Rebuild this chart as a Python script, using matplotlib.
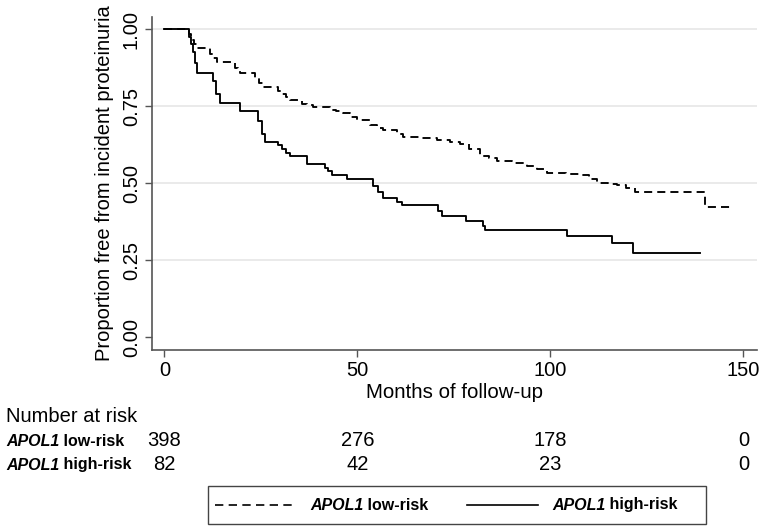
import matplotlib
matplotlib.use("Agg")
import matplotlib.pyplot as plt
from matplotlib.lines import Line2D
from matplotlib.patches import Rectangle
from matplotlib.transforms import blended_transform_factory

plt.rcParams['font.family'] = ['Liberation Sans', 'DejaVu Sans']

# ---- data ----
low_t = [0, 6.4, 7.0, 7.6, 8.5, 11.8, 12.7, 13.6, 18.3, 19.0, 19.6, 23.5, 24.6, 25.6,
         29.5, 30.5, 31.6, 32.6, 35.6, 37.0, 38.5, 42.9, 44.5, 46.3, 48.0, 50.0, 53.3,
         55.0, 56.6, 60.2, 61.8, 66.0, 70.6, 74.0, 76.6, 79.0, 81.8, 84.0, 86.1, 90.0,
         93.9, 96.5, 99.1, 104.0, 107.7, 110.0, 112.0, 115.0, 117.2, 119.5, 121.9,
         140.1, 146.5]
low_s = [1.0, 0.985, 0.965, 0.95, 0.937, 0.92, 0.905, 0.894, 0.875, 0.865, 0.856, 0.84,
         0.825, 0.813, 0.80, 0.79, 0.778, 0.769, 0.758, 0.752, 0.747, 0.738, 0.733, 0.728,
         0.716, 0.705, 0.69, 0.68, 0.672, 0.66, 0.65, 0.645, 0.64, 0.633, 0.626, 0.61,
         0.588, 0.58, 0.573, 0.565, 0.555, 0.545, 0.533, 0.53, 0.526, 0.512, 0.501, 0.497,
         0.494, 0.483, 0.472, 0.423, 0.423]

high_t = [0, 6.4, 7.0, 7.5, 8.0, 8.5, 12.6, 13.5, 14.4, 19.6, 24.3, 25.2, 26.1, 29.5,
          30.5, 31.5, 32.6, 37.0, 41.6, 42.5, 43.4, 47.3, 54.0, 55.3, 56.6, 60.2, 61.6,
          70.9, 71.9, 78.2, 82.6, 83.0, 104.3, 116.0, 121.4, 138.8]
high_s = [1.0, 0.975, 0.95, 0.925, 0.89, 0.857, 0.83, 0.79, 0.759, 0.734, 0.70, 0.66,
          0.634, 0.622, 0.61, 0.598, 0.588, 0.562, 0.55, 0.538, 0.526, 0.513, 0.49, 0.47,
          0.452, 0.439, 0.428, 0.41, 0.393, 0.378, 0.36, 0.347, 0.329, 0.305, 0.273, 0.273]

risk_times = [0, 50, 100, 150]
risk_low = [398, 276, 178, 0]
risk_high = [82, 42, 23, 0]

x_ticks = [0, 50, 100, 150]
y_ticks = [0.0, 0.25, 0.5, 0.75, 1.0]
y_ticklabels = ["0.00", "0.25", "0.50", "0.75", "1.00"]

group_names = ["low-risk", "high-risk"]
gene = "APOL1"

# ---- figure ----
W, H = 762, 529
fig = plt.figure(figsize=(W / 100, H / 100), dpi=100)
fig.patch.set_facecolor("white")

ax_left, ax_right, ax_bottom, ax_top = 152, 757, 350, 16.7
ax = fig.add_axes([ax_left / W, 1 - ax_bottom / H, (ax_right - ax_left) / W,
                   (ax_bottom - ax_top) / H])

ax.set_xlim(-3.2, 153.5)
ax.set_ylim(-0.042, 1.04)

for y in y_ticks[1:]:
    ax.axhline(y, color="#e8e8e8", lw=1.3, zorder=0)

ax.plot(low_t, low_s, drawstyle="steps-post", color="black", lw=1.35,
        linestyle=(0, (4.3, 2.7)), zorder=3)
ax.plot(high_t, high_s, drawstyle="steps-post", color="black", lw=1.35, zorder=3)

for s in ["top", "right"]:
    ax.spines[s].set_visible(False)
for s in ["left", "bottom"]:
    ax.spines[s].set_color("#555555")
    ax.spines[s].set_linewidth(1.2)

ax.set_xticks(x_ticks)
ax.set_xticklabels([str(v) for v in x_ticks], fontsize=14.5)
ax.set_yticks(y_ticks)
ax.set_yticklabels(y_ticklabels, fontsize=14.5, rotation=90, va="center")
ax.tick_params(axis="both", direction="out", length=5, width=1.0, color="#555555",
               pad=3)

ax.set_xlabel("Months of follow-up", fontsize=14.8, labelpad=2)
ax.set_ylabel("Proportion free from incident proteinuria", fontsize=14.5, labelpad=6)

# ---- number at risk table ----
tr = blended_transform_factory(ax.transData, fig.transFigure)
fig.text(6 / W, 1 - 417 / H, "Number at risk", fontsize=14.5, va="center", ha="left")

row_y = [441, 465]
for yy, name, counts in zip(row_y, group_names, [risk_low, risk_high]):
    t1 = fig.text(6 / W, 1 - yy / H, gene, fontsize=11.5, fontweight="bold",
                  style="italic", va="center", ha="left")
    ax.annotate(" " + name, xy=(1, 0.5), xycoords=t1, va="center", ha="left",
                fontsize=11.5, fontweight="bold", annotation_clip=False)
    for t, c in zip(risk_times, counts):
        ax.text(t, 1 - yy / H, str(c), transform=tr, fontsize=14.5, ha="center",
                va="center")

# ---- legend box ----
bx0, bx1, by0, by1 = 208, 706, 486, 524
fig.patches.append(Rectangle((bx0 / W, 1 - by1 / H), (bx1 - bx0) / W, (by1 - by0) / H,
                             transform=fig.transFigure, fill=False,
                             edgecolor="#444444", lw=1.0))
ly = 1 - 505 / H
fig.lines.append(Line2D([215 / W, 294 / W], [ly, ly], transform=fig.transFigure,
                        color="black", lw=1.2, linestyle=(0, (5, 3.2))))
fig.lines.append(Line2D([467 / W, 538 / W], [ly, ly], transform=fig.transFigure,
                        color="black", lw=1.2))
for x0, name in zip([310, 552], group_names):
    t1 = fig.text(x0 / W, ly, gene, fontsize=11.5, fontweight="bold",
                  style="italic", va="center", ha="left")
    ax.annotate(" " + name, xy=(1, 0.5), xycoords=t1, va="center", ha="left",
                fontsize=11.5, fontweight="bold", annotation_clip=False)

fig.savefig("out.png", dpi=100, facecolor="white")
